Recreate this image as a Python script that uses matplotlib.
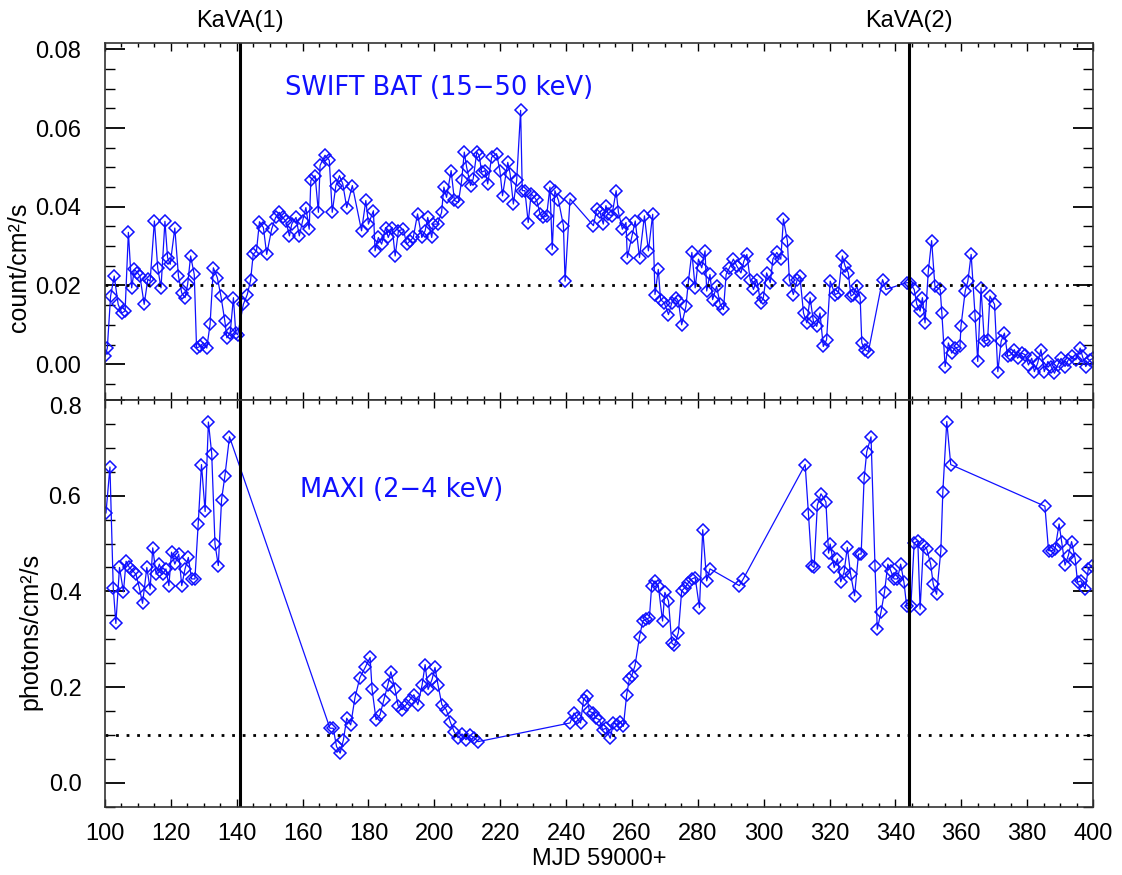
import matplotlib
matplotlib.use("Agg")
import matplotlib.pyplot as plt
from matplotlib.ticker import MultipleLocator
import matplotlib.transforms as mtransforms

# ---------------- data ----------------
bat_day = [100.0, 100.7, 101.7, 102.8, 104.0, 105.1, 106.1, 107.1, 108.1, 108.9, 109.8, 110.6,
           111.9, 113.0, 113.7, 115.0, 116.0, 117.0, 118.2, 119.0, 119.8, 121.2, 122.3, 123.3,
           124.3, 125.1, 126.0, 127.1, 127.8, 128.8, 129.9, 130.9, 131.9, 132.9, 134.1, 135.2,
           136.4, 137.0, 138.0, 139.0, 139.7, 140.3, 142.0, 143.2, 144.2, 145.0, 146.0, 146.9,
           148.1, 149.1, 150.6, 151.8, 152.9, 153.9, 154.9, 156.0, 156.7, 158.0, 159.0, 160.0,
           161.0, 162.0, 162.5, 163.8, 164.8, 165.3, 166.8, 168.1, 169.0, 170.1, 171.2, 172.2,
           173.4, 175.1, 177.9, 179.2, 180.0, 181.5, 182.0, 183.0, 184.0, 185.2, 186.0, 187.2,
           188.1, 189.1, 190.6, 191.6, 192.6, 193.6, 194.9, 196.2, 197.2, 198.0, 199.2, 199.7,
           201.0, 202.2, 202.9, 203.7, 205.1, 206.1, 207.3, 208.3, 209.1, 209.8, 211.0, 211.8,
           212.9, 213.6, 214.4, 215.4, 216.2, 217.4, 218.9, 219.9, 220.7, 222.3, 223.0, 224.0,
           225.0, 226.2, 226.7, 227.5, 228.5, 229.4, 230.4, 231.1, 232.1, 233.1, 234.1, 235.1,
           235.8, 236.6, 237.7, 239.2, 239.7, 241.2, 248.3, 249.3, 250.3, 251.3, 252.1, 252.8,
           253.9, 255.2, 255.9, 257.1, 258.2, 258.6, 259.9, 261.0, 262.3, 263.8, 265.0, 266.3,
           267.0, 268.0, 268.7, 269.8, 271.1, 272.1, 273.4, 274.1, 275.1, 276.4, 277.1, 278.2,
           279.2, 280.2, 281.2, 282.2, 282.7, 283.7, 284.5, 285.7, 286.8, 287.8, 288.6, 289.6,
           290.8, 291.8, 293.1, 294.0, 294.9, 295.9, 296.9, 297.9, 299.1, 299.9, 300.9, 302.0,
           302.8, 304.0, 305.2, 306.0, 307.2, 307.8, 309.0, 310.2, 311.0, 312.1, 313.1, 314.1,
           315.1, 316.1, 317.1, 318.1, 319.1, 320.2, 321.7, 322.7, 323.9, 324.7, 325.7, 326.5,
           327.2, 328.3, 329.3, 329.8, 330.8, 331.8, 336.1, 337.1, 343.4, 344.4, 345.7, 346.5,
           347.5, 348.2, 349.0, 350.0, 351.0, 352.0, 353.6, 354.1, 355.1, 356.1, 357.1, 358.1,
           359.6, 359.9, 361.2, 362.0, 363.0, 364.2, 365.0, 366.0, 367.0, 368.0, 368.7, 370.1,
           371.1, 372.1, 373.1, 374.1, 375.1, 376.1, 377.1, 378.4, 379.4, 380.4, 381.4, 382.2,
           383.2, 384.2, 385.2, 386.3, 387.3, 388.3, 389.3, 390.3, 391.5, 392.5, 393.5, 394.8,
           396.1, 396.8, 397.8, 399.1, 400.1]
bat_rate = [0.0020, 0.0041, 0.0173, 0.0224, 0.0152, 0.0130, 0.0135, 0.0335, 0.0194, 0.0241, 0.0233, 0.0224,
            0.0152, 0.0216, 0.0211, 0.0364, 0.0245, 0.0194, 0.0363, 0.0271, 0.0254, 0.0346, 0.0224, 0.0181,
            0.0169, 0.0203, 0.0275, 0.0228, 0.0041, 0.0045, 0.0054, 0.0041, 0.0101, 0.0245, 0.0220, 0.0173,
            0.0109, 0.0067, 0.0079, 0.0169, 0.0079, 0.0075, 0.0152, 0.0177, 0.0213, 0.0279, 0.0288, 0.0362,
            0.0347, 0.0279, 0.0343, 0.0373, 0.0386, 0.0373, 0.0364, 0.0326, 0.0356, 0.0373, 0.0326, 0.0364,
            0.0398, 0.0343, 0.0467, 0.0479, 0.0386, 0.0505, 0.0531, 0.0518, 0.0386, 0.0454, 0.0479, 0.0458,
            0.0398, 0.0454, 0.0339, 0.0416, 0.0356, 0.0390, 0.0288, 0.0322, 0.0305, 0.0347, 0.0322, 0.0347,
            0.0275, 0.0339, 0.0343, 0.0305, 0.0313, 0.0322, 0.0382, 0.0322, 0.0339, 0.0373, 0.0322, 0.0356,
            0.0356, 0.0386, 0.0450, 0.0424, 0.0492, 0.0416, 0.0411, 0.0467, 0.0539, 0.0501, 0.0454, 0.0471,
            0.0539, 0.0531, 0.0488, 0.0492, 0.0458, 0.0526, 0.0535, 0.0492, 0.0428, 0.0513, 0.0484, 0.0407,
            0.0467, 0.0645, 0.0441, 0.0441, 0.0360, 0.0433, 0.0424, 0.0416, 0.0382, 0.0373, 0.0377, 0.0450,
            0.0292, 0.0441, 0.0416, 0.0352, 0.0211, 0.0420, 0.0352, 0.0394, 0.0386, 0.0356, 0.0403, 0.0381,
            0.0377, 0.0441, 0.0386, 0.0343, 0.0360, 0.0271, 0.0322, 0.0364, 0.0271, 0.0377, 0.0288, 0.0381,
            0.0177, 0.0241, 0.0164, 0.0156, 0.0126, 0.0156, 0.0169, 0.0160, 0.0100, 0.0147, 0.0207, 0.0284,
            0.0194, 0.0267, 0.0245, 0.0288, 0.0186, 0.0228, 0.0164, 0.0198, 0.0152, 0.0139, 0.0228, 0.0245,
            0.0267, 0.0250, 0.0232, 0.0262, 0.0279, 0.0215, 0.0190, 0.0215, 0.0156, 0.0169, 0.0232, 0.0207,
            0.0267, 0.0284, 0.0267, 0.0369, 0.0313, 0.0215, 0.0177, 0.0215, 0.0224, 0.0130, 0.0105, 0.0169,
            0.0109, 0.0096, 0.0130, 0.0045, 0.0062, 0.0211, 0.0177, 0.0181, 0.0275, 0.0250, 0.0232, 0.0173,
            0.0177, 0.0198, 0.0169, 0.0054, 0.0037, 0.0032, 0.0215, 0.0190, 0.0207, 0.0207, 0.0190, 0.0152,
            0.0135, 0.0169, 0.0105, 0.0237, 0.0314, 0.0198, 0.0190, 0.0130, -0.0006, 0.0054, 0.0028, 0.0041,
            0.0045, 0.0096, 0.0186, 0.0211, 0.0279, 0.0122, 0.0007, 0.0194, 0.0058, 0.0062, 0.0173, 0.0152,
            -0.0019, 0.0058, 0.0079, 0.0020, 0.0024, 0.0037, 0.0015, 0.0028, 0.0024, -0.0002, 0.0015, -0.0019,
            0.0003, 0.0037, -0.0019, 0.0007, -0.0006, -0.0023, -0.0002, 0.0015, -0.0006, 0.0011, 0.0020, 0.0011,
            0.0041, 0.0020, -0.0006, 0.0011, 0.0015]

maxi_day = [100.3, 101.5, 102.5, 103.3, 104.4, 105.6, 106.4, 107.4, 108.4, 109.4, 110.4, 111.4,
            112.7, 113.7, 114.5, 115.5, 116.5, 117.5, 118.5, 119.4, 120.2, 121.2, 122.4, 123.3,
            124.3, 125.3, 126.3, 127.3, 128.3, 129.3, 130.4, 131.4, 132.4, 133.4, 134.4, 135.4,
            136.4, 137.8, 168.3, 169.3, 170.3, 171.4, 172.4, 173.4, 174.6, 175.9, 177.4, 179.0,
            180.5, 181.1, 182.3, 183.5, 184.7, 185.9, 186.8, 188.1, 189.0, 190.2, 191.4, 192.6,
            193.8, 195.0, 196.3, 197.2, 198.1, 199.3, 200.2, 201.1, 202.3, 203.6, 204.8, 206.0,
            207.2, 208.4, 209.6, 210.8, 212.1, 213.3, 241.2, 242.4, 243.4, 244.4, 245.3, 246.3,
            247.1, 248.3, 249.1, 250.1, 251.1, 252.1, 253.4, 254.4, 255.4, 256.4, 257.4, 258.4,
            259.2, 259.9, 260.9, 262.3, 263.3, 264.3, 265.3, 266.0, 267.0, 268.0, 269.3, 270.0,
            271.1, 272.1, 272.9, 274.1, 275.1, 276.1, 277.1, 278.2, 279.2, 280.5, 281.5, 282.7,
            283.7, 292.6, 293.8, 312.6, 313.6, 314.6, 315.3, 316.3, 317.4, 318.9, 319.7, 320.2,
            321.4, 322.4, 323.4, 324.4, 325.4, 326.4, 327.6, 328.8, 329.6, 330.5, 331.3, 332.6,
            333.8, 334.5, 335.6, 336.7, 337.7, 338.6, 339.6, 340.6, 341.6, 342.6, 343.4, 344.7,
            345.7, 346.8, 347.5, 348.5, 349.5, 350.7, 351.5, 352.5, 353.8, 354.4, 355.6, 356.8,
            385.4, 386.5, 387.5, 388.5, 389.7, 390.5, 391.5, 392.5, 393.5, 394.6, 395.3, 396.3,
            397.6, 398.6, 399.6]
maxi_flux = [0.564, 0.660, 0.408, 0.333, 0.450, 0.399, 0.463, 0.450, 0.443, 0.436, 0.408, 0.375,
             0.450, 0.405, 0.491, 0.436, 0.457, 0.436, 0.447, 0.412, 0.482, 0.457, 0.478, 0.412,
             0.447, 0.471, 0.426, 0.426, 0.541, 0.665, 0.567, 0.754, 0.688, 0.499, 0.454, 0.592,
             0.641, 0.723, 0.114, 0.114, 0.076, 0.062, 0.090, 0.135, 0.121, 0.178, 0.220, 0.241,
             0.262, 0.195, 0.132, 0.142, 0.174, 0.205, 0.232, 0.195, 0.161, 0.153, 0.163, 0.174,
             0.184, 0.163, 0.205, 0.247, 0.195, 0.216, 0.241, 0.205, 0.163, 0.153, 0.128, 0.107,
             0.094, 0.102, 0.090, 0.100, 0.094, 0.086, 0.125, 0.146, 0.135, 0.125, 0.174, 0.182,
             0.149, 0.146, 0.135, 0.132, 0.111, 0.114, 0.093, 0.125, 0.121, 0.128, 0.118, 0.184,
             0.216, 0.223, 0.244, 0.305, 0.338, 0.342, 0.345, 0.412, 0.422, 0.412, 0.338, 0.398,
             0.380, 0.292, 0.287, 0.314, 0.401, 0.408, 0.418, 0.426, 0.429, 0.366, 0.529, 0.422,
             0.447, 0.412, 0.426, 0.665, 0.562, 0.454, 0.450, 0.580, 0.604, 0.587, 0.480, 0.499,
             0.450, 0.468, 0.420, 0.440, 0.492, 0.436, 0.391, 0.478, 0.478, 0.636, 0.692, 0.723,
             0.454, 0.321, 0.356, 0.399, 0.457, 0.443, 0.426, 0.426, 0.457, 0.419, 0.370, 0.370,
             0.501, 0.506, 0.363, 0.496, 0.489, 0.457, 0.415, 0.394, 0.485, 0.608, 0.755, 0.665,
             0.578, 0.485, 0.485, 0.489, 0.541, 0.503, 0.455, 0.475, 0.504, 0.468, 0.419, 0.422,
             0.405, 0.447, 0.454]

kava_days = [141.0, 344.0]
kava_labels = ["KaVA(1)", "KaVA(2)"]
bat_threshold = 0.02
maxi_threshold = 0.1
bat_yticks = [0.0, 0.02, 0.04, 0.06, 0.08]
bat_yticklabels = ["0.00", "0.02", "0.04", "0.06", "0.08"]
maxi_yticks = [0.0, 0.2, 0.4, 0.6, 0.8]
maxi_yticklabels = ["0.0", "0.2", "0.4", "0.6", "0.8"]

# ---------------- style ----------------
FONT = ["Liberation Sans", "DejaVu Sans"]
plt.rcParams['font.family'] = FONT
BLUE = "#1010ff"

fig = plt.figure(figsize=(11.22, 8.75), dpi=100)
left, width = 105 / 1122, 988 / 1122
ax1 = fig.add_axes([left, 1 - 400 / 875, width, (400 - 42.7) / 875])
ax2 = fig.add_axes([left, 1 - 806.7 / 875, width, (806.7 - 400) / 875])

line_kw = dict(color=BLUE, lw=0.9, marker='D', ms=6.5, mfc='none', mec=BLUE, mew=1.1)
ax1.plot(bat_day, bat_rate, **line_kw)
ax2.plot(maxi_day, maxi_flux, **line_kw)

ax1.axhline(bat_threshold, color='black', lw=2.0, ls=(0, (1, 2.8)))
ax2.axhline(maxi_threshold, color='black', lw=2.0, ls=(0, (1, 2.8)))

ax1.set_ylim(-0.0091, 0.0817)
ax1.set_yticks(bat_yticks)
ax1.set_yticklabels(bat_yticklabels)
ax1.yaxis.set_minor_locator(MultipleLocator(0.005))

ax2.set_ylim(-0.05, 0.80)
ax2.set_yticks(maxi_yticks)
ax2.set_yticklabels(maxi_yticklabels)
ax2.yaxis.set_minor_locator(MultipleLocator(0.05))

for ax in (ax1, ax2):
    for d in kava_days:
        ax.axvline(d, color='black', lw=2.2)
    ax.set_xlim(100, 400)
    ax.xaxis.set_major_locator(MultipleLocator(20))
    ax.xaxis.set_minor_locator(MultipleLocator(5))
    ax.tick_params(axis='both', which='both', direction='in', top=True, right=True,
                   colors='black', labelsize=17)
    ax.tick_params(axis='x', which='major', length=6, width=1.0, pad=12)
    ax.tick_params(axis='x', which='minor', length=3, width=1.0)
    ax.tick_params(axis='y', which='major', length=14.5, width=1.3, pad=17)
    ax.tick_params(axis='y', which='minor', length=7, width=1.0)
    for s in ax.spines.values():
        s.set_linewidth(1.2)
        s.set_color('#333333')

ax1.tick_params(axis='x', labelbottom=False)
ax1.set_ylabel("count/cm²/s", fontsize=18)
ax1.yaxis.set_label_coords(-0.075, 0.37)

ax2.set_ylabel("photons/cm²/s", fontsize=18)
ax2.yaxis.set_label_coords(-0.063, 0.43)
ax2.set_xlabel("MJD 59000+", fontsize=17, labelpad=2)

# nudge the topmost label of the lower panel down, as in the reference
top_lab = ax2.get_yticklabels()[-1]
top_lab.set_transform(top_lab.get_transform() +
                      mtransforms.ScaledTranslation(0, -6 / 100, fig.dpi_scale_trans))

ax1.text(154.7, 0.0702, "SWIFT BAT (15−50 keV)", color=BLUE, fontsize=18.5,
         va='center', ha='left', family=["DejaVu Sans"])
ax2.text(159.2, 0.611, "MAXI (2−4 keV)", color=BLUE, fontsize=18.5,
         va='center', ha='left', family=["DejaVu Sans"])

for d, lab in zip(kava_days, kava_labels):
    ax1.text(d, 1.03, lab, transform=ax1.get_xaxis_transform(), ha='center', va='bottom',
             fontsize=17)

fig.savefig("out.png", dpi=100)
